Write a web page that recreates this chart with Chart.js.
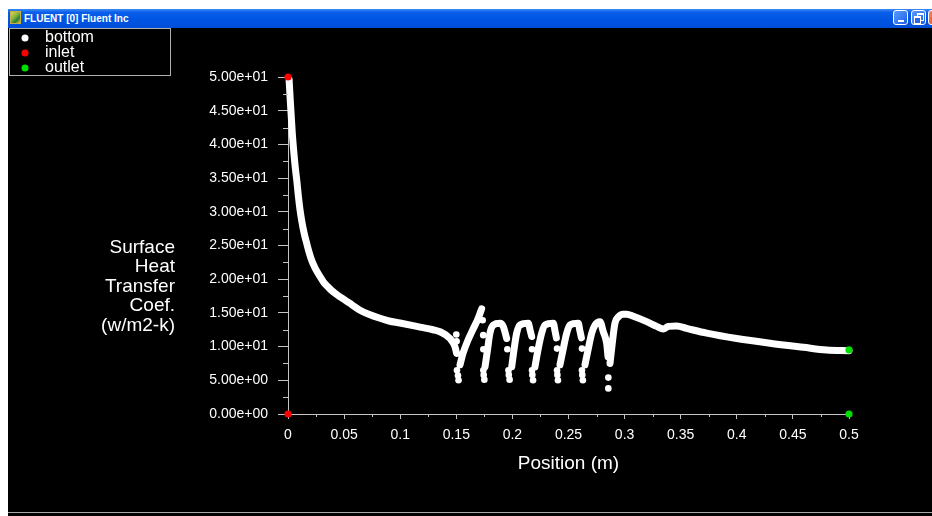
<!DOCTYPE html>
<html>
<head>
<meta charset="utf-8">
<script src="https://cdn.jsdelivr.net/npm/chart.js@4.4.1/dist/chart.umd.min.js"></script>
<style>
body { margin:0; width:932px; height:516px; background:#fff; overflow:hidden; position:relative; font-family:"Liberation Sans", Arial, sans-serif; }
#titlebar { position:absolute; left:8px; top:9px; width:924px; height:19px; background:linear-gradient(#3b8af4 0%, #0a5ee9 18%, #0054e3 55%, #004fd8 100%); }
#icon { position:absolute; left:10px; top:11px; width:11px; height:13px; background:linear-gradient(135deg, #e8d24a 0%, #7cb342 45%, #2e7d32 70%, #d9c34a 100%); border:1px solid #c8b040; box-sizing:border-box; }
#title { position:absolute; left:24px; top:9px; color:#fff; font:bold 10px "Liberation Sans", Arial, sans-serif; line-height:19px; white-space:nowrap; }
.btn { position:absolute; top:10px; width:15px; height:15px; box-sizing:border-box; border:1px solid #fff; border-radius:3px; background:linear-gradient(135deg, #5b9cff, #1c5ee8); }
#bmin { left:893px; }
#bmin::after { content:""; position:absolute; left:4px; top:9px; width:6px; height:2px; background:#fff; }
#bmax { left:911px; }
#bmax::before { content:""; position:absolute; left:5px; top:2px; width:5px; height:5px; border:1px solid #fff; border-top-width:2px; }
#bmax::after { content:""; position:absolute; left:2px; top:5px; width:5px; height:5px; border:1px solid #fff; border-top-width:2px; background:#2a66e6; }
#bclose { left:928px; background:linear-gradient(135deg, #f08a6c, #d8401c); }
#plot { position:absolute; left:8px; top:28px; background:#000; }
#status { position:absolute; left:8px; top:512px; width:924px; height:4px; background:#000; border-top:1px solid #a8a8a8; box-sizing:border-box; }
</style>
</head>
<body>
<div id="titlebar"></div>
<div id="icon"></div>
<div id="title">FLUENT [0] Fluent Inc</div>
<div class="btn" id="bmin"></div>
<div class="btn" id="bmax"></div>
<div class="btn" id="bclose"></div>
<canvas id="plot" width="924" height="484"></canvas>
<div id="status"></div>
<script>
// wall profiles: [position (m), h (w/m2-k)]
// null values break the curve between the saw teeth
var bottomCurve = [
    [0.0010, 49.6], [0.0020, 46.6], [0.0030, 43.9], [0.0038, 41.7], [0.0048, 39.6],
    [0.0058, 37.7], [0.0068, 36.1], [0.0078, 34.7], [0.0092, 32.4], [0.0107, 30.3],
    [0.0120, 28.9], [0.0134, 27.6], [0.0150, 26.4], [0.0167, 25.3], [0.0188, 24.0],
    [0.0211, 22.8], [0.0240, 21.7], [0.0285, 20.4], [0.0320, 19.5], [0.0360, 18.8],
    [0.0390, 18.3], [0.0419, 17.9], [0.0460, 17.4], [0.0508, 16.9], [0.0570, 16.2],
    [0.0642, 15.4], [0.0720, 14.8], [0.0820, 14.2], [0.0900, 13.8], [0.0998, 13.5],
    [0.1176, 12.9], [0.1292, 12.5], [0.1355, 12.2], [0.1444, 11.2], [0.1488, 10.0],
    [0.1503, 9.0], [0.1510, null],
    [0.1533, 7.3], [0.1560, 9.0], [0.1600, 10.8], [0.1650, 12.6], [0.1690, 14.0],
    [0.1711, 14.9], [0.1726, 15.6], [0.1740, null],
    [0.1756, 7.0], [0.1778, 9.5], [0.1800, 12.0], [0.1830, 13.2], [0.1889, 13.45],
    [0.1919, 12.96], [0.1949, 11.2], [0.1960, null],
    [0.1994, 7.0], [0.2014, 9.5], [0.2038, 12.0], [0.2068, 13.2], [0.2142, 13.45],
    [0.2157, 12.5], [0.2172, 11.5], [0.2180, null],
    [0.2201, 7.0], [0.2228, 9.5], [0.2261, 12.0], [0.2291, 13.2], [0.2365, 13.45],
    [0.2380, 12.3], [0.2392, 11.3], [0.2400, null],
    [0.2424, 7.3], [0.2451, 9.5], [0.2484, 12.0], [0.2513, 13.2], [0.2587, 13.45],
    [0.2602, 12.3], [0.2615, 11.3], [0.2630, null],
    [0.2647, 7.3], [0.2674, 9.5], [0.2707, 12.0], [0.2736, 13.2], [0.2781, 13.7],
    [0.2810, 12.2], [0.2840, 10.5], [0.2852, 8.5], [0.2860, null],
    [0.2870, 7.5], [0.2888, 10.2], [0.2914, 13.45], [0.2944, 14.4], [0.2988, 14.8],
    [0.3019, 14.8], [0.3078, 14.5], [0.3197, 13.7], [0.3286, 13.0], [0.3345, 12.6],
    [0.3390, 13.0], [0.3464, 13.05], [0.3553, 12.7], [0.3732, 12.0], [0.3999, 11.2],
    [0.4296, 10.5], [0.4593, 9.9], [0.4801, 9.5], [0.5000, 9.4]
];
// loose cells where the profile drops at each tooth
var bottomDots = [
    [0.1500, 11.8], [0.1503, 10.8], [0.1506, 6.5], [0.1515, 5.7], [0.1520, 5.0],
    [0.1735, 13.9], [0.1740, 11.7], [0.1741, 9.6], [0.1741, 6.5], [0.1744, 5.8], [0.1750, 5.1],
    [0.1955, 9.6], [0.1965, 6.5], [0.1968, 5.8], [0.1975, 5.1],
    [0.2175, 9.6], [0.2175, 6.5], [0.2178, 5.8], [0.2184, 5.0],
    [0.2398, 9.7], [0.2398, 6.5], [0.2401, 5.8], [0.2406, 5.0],
    [0.2620, 9.7], [0.2620, 6.5], [0.2623, 5.8], [0.2628, 5.0],
    [0.2855, 5.4], [0.2855, 3.8]
];
var inletPoints = [[0, 50], [0, 0]];
var outletPoints = [[0.5, 9.5], [0.5, 0]];

var legendNames = ["bottom", "inlet", "outlet"];
var yTitleLines = ["Surface", "Heat", "Transfer", "Coef.", "(w/m2-k)"];
var xTitle = "Position (m)";
var xMinorTicks = [0.025, 0.075, 0.125, 0.175, 0.225, 0.275, 0.325, 0.375, 0.425, 0.475];
var yMinorTicks = [2.5, 7.5, 12.5, 17.5, 22.5, 27.5, 32.5, 37.5, 42.5, 47.5];

var axisGray = "#c4c4c4";
var legendColors = ["#ffffff", "#ff0000", "#00e000"];

// minor ticks, legend box and axis titles the way Fluent draws them
var fluentDecor = {
    id: "fluentDecor",
    afterDraw: function(chart){
        var ctx = chart.ctx;
        var x = chart.scales.x, y = chart.scales.y;
        ctx.save();
        ctx.strokeStyle = axisGray;
        ctx.lineWidth = 1;
        ctx.beginPath();
        xMinorTicks.forEach(function(v){
            var px = Math.round(x.getPixelForValue(v)) + 0.5;
            ctx.moveTo(px, y.bottom);
            ctx.lineTo(px, y.bottom + 3);
        });
        yMinorTicks.forEach(function(v){
            var py = Math.round(y.getPixelForValue(v)) + 0.5;
            ctx.moveTo(x.left - 5, py);
            ctx.lineTo(x.left, py);
        });
        ctx.stroke();

        // legend
        ctx.strokeStyle = "#b0b0b0";
        ctx.strokeRect(1.5, 0.5, 161, 47);
        ctx.font = "16px 'Liberation Sans', Arial, sans-serif";
        ctx.textBaseline = "middle";
        ctx.textAlign = "left";
        legendNames.forEach(function(name, i){
            var cy = 10 + i * 15;
            ctx.fillStyle = legendColors[i];
            ctx.beginPath();
            ctx.arc(17, cy, 3.5, 0, Math.PI * 2);
            ctx.fill();
            ctx.fillStyle = "#ffffff";
            ctx.fillText(name, 37, cy);
        });

        // axis titles
        ctx.font = "19px 'Liberation Sans', Arial, sans-serif";
        ctx.fillStyle = "#ffffff";
        ctx.textAlign = "right";
        yTitleLines.forEach(function(line, i){
            ctx.fillText(line, 167, 219.5 + i * 19.5);
        });
        ctx.textAlign = "center";
        ctx.fillText(xTitle, (x.left + x.right) / 2, 435.5);
        ctx.restore();
    }
};

var tickFont = { family: "'Liberation Sans', Arial, sans-serif", size: 14 };

new Chart(document.getElementById("plot"), {
    type: "scatter",
    data: {
        datasets: [
            { label: "inlet", data: inletPoints, pointRadius: 3.6, backgroundColor: "#ff0000", borderWidth: 0, clip: false },
            { label: "outlet", data: outletPoints, pointRadius: 3.6, backgroundColor: "#00e000", borderWidth: 0, clip: false },
            { label: "bottom", data: bottomDots, pointRadius: 3.3, backgroundColor: "#ffffff", borderWidth: 0, clip: false },
            {
                label: "bottom", data: bottomCurve, showLine: true, spanGaps: false,
                pointRadius: 0, borderColor: "#ffffff", borderWidth: 7,
                borderCapStyle: "round", borderJoinStyle: "round",
                cubicInterpolationMode: "monotone", clip: false
            }
        ]
    },
    options: {
        responsive: false,
        animation: false,
        events: [],
        layout: { padding: { left: 0, top: 49, right: 83, bottom: 0 } },
        plugins: { legend: { display: false }, tooltip: { enabled: false } },
        scales: {
            x: {
                type: "linear", min: 0, max: 0.5,
                afterFit: function(scale){ scale.height = 98; },
                border: { display: true, color: axisGray, width: 1 },
                grid: { display: true, drawOnChartArea: false, drawTicks: true, tickLength: 5, color: axisGray },
                ticks: {
                    stepSize: 0.05, autoSkip: false, maxRotation: 0, padding: 8,
                    color: "#ffffff", font: tickFont,
                    callback: function(v){ return String(Math.round(v * 100) / 100); }
                }
            },
            y: {
                type: "linear", min: 0, max: 50,
                afterFit: function(scale){ scale.width = 280; },
                border: { display: true, color: axisGray, width: 1 },
                grid: { display: true, drawOnChartArea: false, drawTicks: true, tickLength: 10, color: axisGray },
                ticks: {
                    stepSize: 5, autoSkip: false, padding: 10,
                    color: "#ffffff", font: tickFont,
                    callback: function(v){ return v.toExponential(2).replace(/e([+-])(\d)$/, "e$10$2"); }
                }
            }
        }
    },
    plugins: [fluentDecor]
});
</script>
</body>
</html>
